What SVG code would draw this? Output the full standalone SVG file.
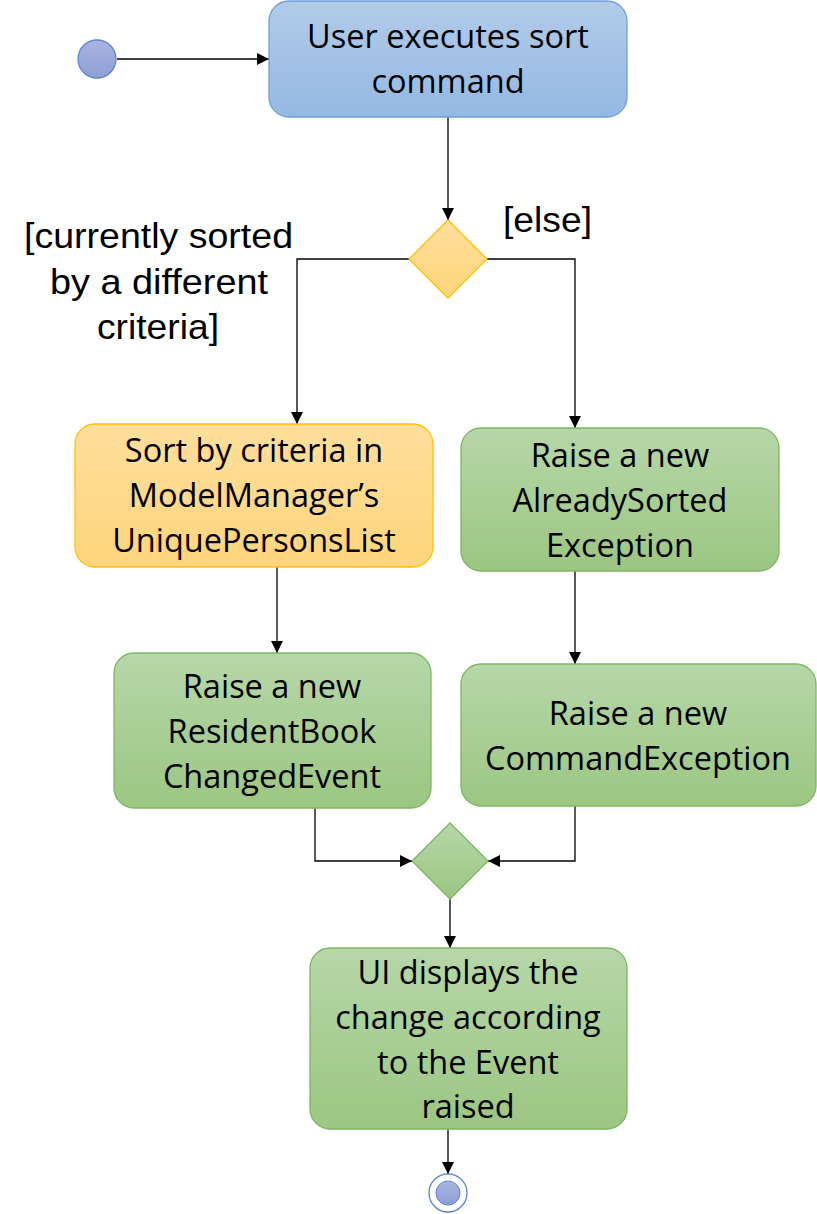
<svg xmlns="http://www.w3.org/2000/svg" width="817" height="1214" viewBox="0 0 817 1214">
<defs>
<linearGradient id="gBlue" x1="0" y1="0" x2="0" y2="1"><stop offset="0" stop-color="#b2cbe9"/><stop offset="1" stop-color="#94b9e3"/></linearGradient>
<linearGradient id="gGreen" x1="0" y1="0" x2="0" y2="1"><stop offset="0" stop-color="#b6d7a8"/><stop offset="1" stop-color="#9cc682"/></linearGradient>
<linearGradient id="gOrange" x1="0" y1="0" x2="0" y2="1"><stop offset="0" stop-color="#ffdf9c"/><stop offset="1" stop-color="#ffd57c"/></linearGradient>
<linearGradient id="gCircle" x1="0" y1="0" x2="0" y2="1"><stop offset="0" stop-color="#a9b4e0"/><stop offset="1" stop-color="#8e9fd6"/></linearGradient>
<marker id="arr" markerWidth="12" markerHeight="12" refX="12" refY="6" orient="auto" markerUnits="userSpaceOnUse"><path d="M0,0 L12,6 L0,12 Z" fill="#000"/></marker>
</defs>
<style>
.box text{font-family:"Open Sans","Lato",sans-serif;font-size:32.5px;fill:#000;text-anchor:middle}
.lbl{font-family:"Liberation Sans",Arial,sans-serif;font-size:35px;fill:#000;text-anchor:middle}
.blue{fill:url(#gBlue);stroke:#6d9fd5;stroke-width:1.3}
.green{fill:url(#gGreen);stroke:#7db660;stroke-width:1.3}
.orange{fill:url(#gOrange);stroke:#ffc000;stroke-width:1.3}
.conn path{fill:none;stroke:#000;stroke-width:1.3}
</style>
<g id="connectors" class="conn">
<path d="M117,59 H269" marker-end="url(#arr)"/>
<path d="M448,117 V220" marker-end="url(#arr)"/>
<path d="M409,259 H297 V424" marker-end="url(#arr)"/>
<path d="M487,259 H575 V428" marker-end="url(#arr)"/>
<path d="M277,567 V653" marker-end="url(#arr)"/>
<path d="M575,571 V664" marker-end="url(#arr)"/>
<path d="M315,808 V861 H412" marker-end="url(#arr)"/>
<path d="M575,806 V861 H488" marker-end="url(#arr)"/>
<path d="M450,899 V948" marker-end="url(#arr)"/>
<path d="M448,1129 V1174" marker-end="url(#arr)"/>
</g>
<g id="start"><circle cx="97" cy="59" r="19" fill="url(#gCircle)" stroke="#5b87d0" stroke-width="1.3"/></g>
<g id="n_user" class="box">
<rect class="blue" x="269" y="1" width="358" height="116" rx="20"/>
<text x="448" y="48">User executes sort</text>
<text x="448" y="93">command</text>
</g>
<g id="d_choice"><polygon class="orange" points="448,220 487,259 448,298 409,259"/></g>
<g id="labels">
<text class="lbl" x="158.5" y="248" textLength="269" lengthAdjust="spacingAndGlyphs">[currently sorted</text>
<text class="lbl" x="159" y="294" textLength="218" lengthAdjust="spacingAndGlyphs">by a different</text>
<text class="lbl" x="158" y="339" textLength="122" lengthAdjust="spacingAndGlyphs">criteria]</text>
<text class="lbl" x="547.5" y="232" textLength="89" lengthAdjust="spacingAndGlyphs">[else]</text>
</g>
<g id="n_sort" class="box">
<rect class="orange" x="75" y="424" width="358" height="143" rx="20"/>
<text x="254" y="462">Sort by criteria in</text>
<text x="254" y="507">ModelManager’s</text>
<text x="254" y="552">UniquePersonsList</text>
</g>
<g id="n_already" class="box">
<rect class="green" x="461" y="428" width="318" height="143" rx="20"/>
<text x="620" y="467">Raise a new</text>
<text x="620" y="512">AlreadySorted</text>
<text x="620" y="557">Exception</text>
</g>
<g id="n_resident" class="box">
<rect class="green" x="114" y="653" width="317" height="155" rx="20"/>
<text x="272" y="698">Raise a new</text>
<text x="272" y="743">ResidentBook</text>
<text x="272" y="788">ChangedEvent</text>
</g>
<g id="n_command" class="box">
<rect class="green" x="461" y="664" width="355" height="142" rx="20"/>
<text x="638" y="725">Raise a new</text>
<text x="638" y="770">CommandException</text>
</g>
<g id="d_merge"><polygon class="green" points="450,823 488,861 450,899 412,861"/></g>
<g id="n_ui" class="box">
<rect class="green" x="310" y="948" width="317" height="181" rx="20"/>
<text x="468" y="984">UI displays the</text>
<text x="468" y="1029">change according</text>
<text x="468" y="1074">to the Event</text>
<text x="468" y="1118">raised</text>
</g>
<g id="end"><circle cx="448" cy="1193" r="19" fill="#fff" stroke="#5b87d0" stroke-width="1.3"/><circle cx="448" cy="1193" r="12" fill="url(#gCircle)" stroke="#5b87d0" stroke-width="1"/></g>
</svg>
